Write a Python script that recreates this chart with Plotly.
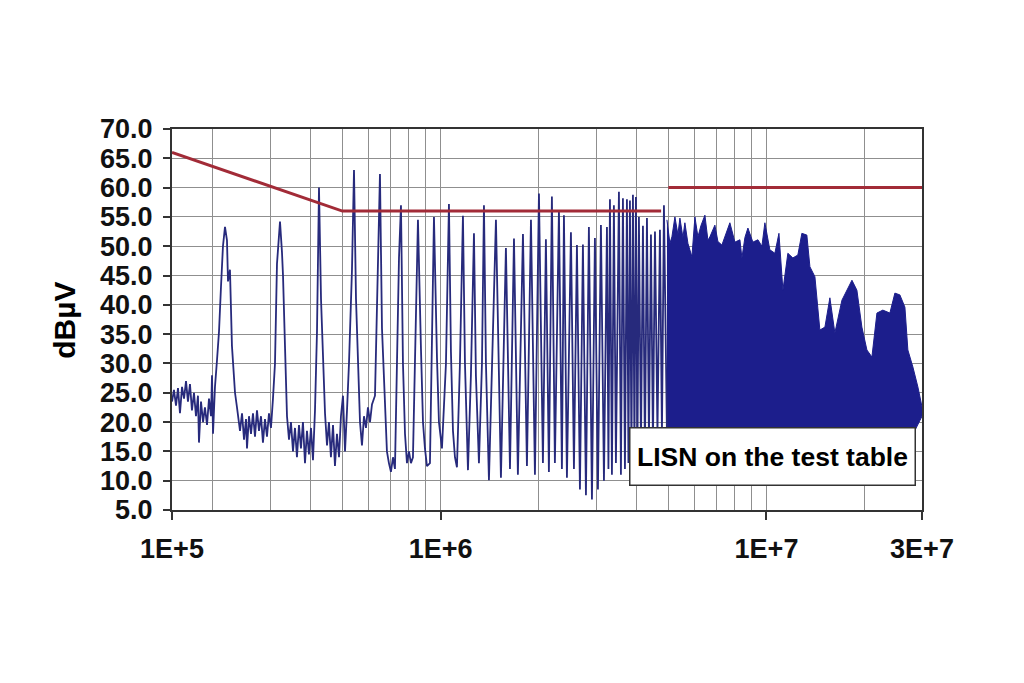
import math
import plotly.graph_objects as go

# ---------------- data (frequencies in MHz, levels in dBµV) ----------------
# conducted-emission spectrum, sparse (harmonic) part 0.15 .. 4.95 MHz
spec_f_mhz = [
    0.150, 0.1521, 0.1543, 0.1565, 0.1587, 0.1610, 0.1633, 0.1656, 0.1679, 0.1703,
    0.1727, 0.1752, 0.1777, 0.1802, 0.1815, 0.1841, 0.1868, 0.1893, 0.1921, 0.1948,
    0.1976, 0.1990, 0.2004, 0.2032, 0.2061, 0.2091, 0.2120, 0.2150, 0.2181, 0.2212,
    0.2228, 0.2259, 0.2291, 0.2308, 0.2341, 0.2374, 0.2425, 0.2460, 0.2495, 0.2530,
    0.2548, 0.2584, 0.2621, 0.2658, 0.2696, 0.2734, 0.2773, 0.2813, 0.2852, 0.2893,
    0.2934, 0.2976, 0.3018, 0.3061, 0.3105, 0.3149, 0.3217, 0.3262, 0.3286, 0.3332,
    0.3380, 0.3428, 0.3476, 0.3526, 0.3576, 0.3626, 0.3679, 0.3730, 0.3783, 0.3838,
    0.3892, 0.3947, 0.4004, 0.4061, 0.4119, 0.4178, 0.4237, 0.4298, 0.4359, 0.4421,
    0.4484, 0.4546, 0.4610, 0.4678, 0.4743, 0.4811, 0.4881, 0.4948, 0.5020, 0.5092,
    0.5164, 0.5237, 0.5349, 0.5426, 0.5503, 0.5581, 0.5661, 0.5740, 0.5822, 0.5905,
    0.5988, 0.6075, 0.6161, 0.6293, 0.6382, 0.6518, 0.6612, 0.6754, 0.6847, 0.6944,
    0.7044, 0.7146, 0.7246, 0.7350, 0.7456, 0.7561, 0.7668, 0.7779, 0.7888, 0.8000,
    0.8113, 0.8229, 0.8406, 0.8525, 0.8708, 0.8833, 0.8957, 0.9084, 0.9279, 0.9410,
    0.9546, 0.9750, 0.9888, 1.0100, 1.0245, 1.0390, 1.0612, 1.0762, 1.0917, 1.1071,
    1.1228, 1.1468, 1.1714, 1.1882, 1.2137, 1.2393, 1.2663, 1.2838, 1.3116, 1.3400,
    1.3589, 1.3781, 1.4076, 1.4378, 1.4791,
    1.532, 1.587, 1.633, 1.680, 1.727, 1.790, 1.841, 1.894, 1.948, 2.004,
    2.061, 2.105, 2.150, 2.196, 2.243, 2.308, 2.357, 2.391, 2.442, 2.512,
    2.566, 2.621, 2.677, 2.734, 2.793, 2.852, 2.914, 2.976, 3.040, 3.105,
    3.172, 3.240, 3.274, 3.309, 3.356, 3.403, 3.452, 3.526, 3.576, 3.627,
    3.679, 3.731, 3.771, 3.811, 3.852, 3.893, 3.934, 3.976, 4.018, 4.061,
    4.120, 4.178, 4.237, 4.298, 4.359, 4.421, 4.484, 4.548, 4.629, 4.711,
    4.778, 4.846, 4.950,
]
spec_db = [
    23.5, 25.5, 22.8, 25.8, 21.5, 26.0, 24.0, 27.0, 23.5, 26.5,
    22.0, 25.0, 21.0, 24.5, 16.5, 23.5, 20.0, 22.5, 19.5, 24.0,
    21.0, 28.0, 18.0, 26.0, 30.5, 35.5, 43.0, 50.0, 53.3, 51.0,
    44.0, 46.0, 33.0, 30.0, 25.0, 22.5, 18.5, 21.5, 17.0, 20.5,
    15.5, 21.0, 18.0, 21.5, 17.5, 22.0, 18.5, 21.0, 16.5, 20.5,
    17.5, 21.5, 19.0, 24.0, 30.0, 47.0, 54.2, 49.0, 45.0, 33.0,
    21.0, 17.0, 20.0, 15.0, 19.0, 14.0, 19.5, 15.5, 20.0, 13.0,
    18.5, 14.5, 19.0, 13.5, 22.0, 35.5, 60.0, 41.0, 30.0, 21.5,
    16.0, 20.0, 14.0, 19.5, 12.5, 18.0, 14.0, 21.0, 24.5, 15.0,
    22.0, 30.0, 46.0, 63.0, 41.0, 29.0, 20.0, 16.0, 21.0, 19.0,
    22.5, 20.0, 23.0, 24.5, 41.0, 62.3, 36.0, 21.5, 15.0, 13.0,
    11.5, 14.0, 12.0, 30.0, 48.0, 57.0, 30.0, 18.0, 13.0, 15.0,
    13.0, 14.0, 35.5, 54.5, 32.5, 20.0, 15.5, 12.5, 13.0, 35.0,
    55.0, 31.0, 20.0, 15.5, 22.0, 30.0, 57.2, 32.0, 18.5, 14.0,
    12.3, 30.0, 55.2, 30.0, 11.8, 28.0, 52.2, 28.0, 13.0, 30.0,
    57.0, 30.0, 10.1, 30.0, 54.5,
    10.5, 49.7, 12.0, 51.3, 11.0, 52.1, 12.5, 54.5, 11.0, 59.0,
    13.0, 51.2, 11.5, 58.5, 13.0, 56.2, 12.0, 55.3, 10.5, 52.4,
    12.0, 50.2, 8.5, 50.3, 7.5, 53.3, 6.8, 51.4, 8.5, 53.6,
    10.0, 53.3, 12.0, 58.0, 11.0, 57.0, 13.0, 59.3, 11.0, 58.2,
    12.0, 58.0, 13.0, 57.8, 14.0, 58.8, 15.0, 58.4, 14.0, 55.0,
    16.0, 53.5, 15.0, 54.8, 17.0, 52.0, 16.0, 52.5, 18.0, 52.8,
    18.0, 57.0, 18.0,
]

# dense part 4.95 .. 30 MHz: upper envelope of the packed harmonics
env_f_mhz = [
    4.950, 5.055, 5.127, 5.237, 5.349, 5.425, 5.541, 5.619, 5.740, 5.905,
    6.032, 6.161, 6.292, 6.473, 6.612, 6.705, 6.945, 7.095, 7.298, 7.509,
    7.722, 8.000, 8.288, 8.406, 8.587, 8.770, 9.084, 9.412, 9.681, 9.888,
    10.24, 10.61, 10.92, 11.23, 11.63, 12.05, 12.48, 12.84, 13.30, 13.59,
    14.08, 14.58, 15.11, 15.65, 16.21, 17.04, 17.65, 18.29, 18.94, 19.62,
    20.33, 21.06, 21.82, 22.75, 23.91, 24.77, 25.66, 26.59, 27.15, 28.13,
    29.14, 30.0,
]
env_db = [
    54.5, 50.5, 51.6, 55.0, 52.0, 54.8, 51.5, 54.0, 50.5, 48.2,
    55.0, 51.6, 53.5, 55.3, 51.0, 51.6, 53.6, 50.8, 50.2, 52.0,
    54.0, 50.7, 51.1, 48.0, 51.5, 53.1, 50.7, 51.1, 50.0, 54.0,
    49.4, 48.8, 52.2, 42.5, 48.8, 48.0, 48.5, 52.2, 51.9, 46.5,
    44.8, 35.7, 36.2, 41.2, 35.2, 40.8, 42.5, 44.2, 42.5, 36.2,
    32.3, 31.1, 38.6, 39.1, 38.6, 42.0, 41.7, 39.6, 32.3, 29.4,
    26.0, 22.6,
]
# lower edge of the packed region (mostly behind the label box)
floor_f_mhz = [30.0, 28.5, 25.0, 15.0, 8.0, 4.95]
floor_db = [21.0, 18.5, 17.0, 16.0, 16.0, 17.0]

# EN55022 class B type limit line
limit1_f_mhz = [0.15, 0.5, 4.75]
limit1_db = [66.0, 56.0, 56.0]
limit2_f_mhz = [5.0, 30.0]
limit2_db = [60.0, 60.0]

x_tickvals_hz = [1.5e5, 1e6, 1e7, 3e7]
x_ticktext = ["1E+5", "1E+6", "1E+7", "3E+7"]
x_minor_grid_hz = [2e5, 3e5, 4e5, 5e5, 6e5, 7e5, 8e5, 9e5,
                   2e6, 3e6, 4e6, 5e6, 6e6, 7e6, 8e6, 9e6, 2e7]

label_text = "LISN on the test table"
y_title = "dBµV"

# ---------------- figure ----------------
hz = lambda arr: [v * 1e6 for v in arr]

navy = "#1c1e8c"
fig = go.Figure()

fig.add_trace(go.Scatter(
    x=hz(env_f_mhz + floor_f_mhz), y=env_db + floor_db,
    mode="lines", fill="toself", fillcolor=navy,
    line=dict(color=navy, width=1), hoverinfo="skip", showlegend=False))

fig.add_trace(go.Scatter(
    x=hz(spec_f_mhz), y=spec_db, mode="lines",
    line=dict(color="#272a7c", width=1.8), showlegend=False))

for fx, fy in ((limit1_f_mhz, limit1_db), (limit2_f_mhz, limit2_db)):
    fig.add_trace(go.Scatter(
        x=hz(fx), y=fy, mode="lines",
        line=dict(color="#a22b37", width=3), showlegend=False))

tick_font = dict(family="Liberation Sans, Arial, sans-serif", size=27,
                 color="#111111", weight="bold")

# page body has an 8 px default margin, so the figure is 16 px smaller
fig.update_layout(
    width=1008, height=667,
    margin=dict(l=164, r=94, t=121, b=165),
    paper_bgcolor="white", plot_bgcolor="white",
    showlegend=False,
    xaxis=dict(
        type="log",
        range=[math.log10(1.5e5), math.log10(3e7)],
        tickvals=x_tickvals_hz, ticktext=x_ticktext,
        ticks="outside", ticklen=8, tickwidth=1.5, tickcolor="#333333",
        tickfont=tick_font, ticklabelstandoff=6,
        showgrid=True, gridcolor="#8f8f8f", gridwidth=1.2,
        minor=dict(tickvals=x_minor_grid_hz, showgrid=True,
                   gridcolor="#8f8f8f", gridwidth=1.2, ticks=""),
        showline=True, linecolor="#333333", linewidth=2, mirror=True,
        zeroline=False,
    ),
    yaxis=dict(
        range=[5, 70], tick0=5, dtick=5, tickformat=".1f",
        ticks="outside", ticklen=7, tickwidth=1.5, tickcolor="#333333",
        tickfont=tick_font, ticklabelstandoff=5,
        showgrid=True, gridcolor="#8f8f8f", gridwidth=1.2,
        showline=True, linecolor="#333333", linewidth=2, mirror=True,
        zeroline=False,
    ),
    annotations=[
        dict(text=label_text, xref="paper", yref="paper",
             x=0.801, y=0.1417, xanchor="center", yanchor="middle",
             showarrow=False, bgcolor="white", bordercolor="#333333",
             borderwidth=1.5, borderpad=4, width=276, height=48,
             font=dict(family="Liberation Sans, Arial, sans-serif", size=26.5,
                       color="#000000", weight="bold")),
        dict(text=y_title, xref="paper", yref="paper",
             x=-0.1427, y=0.499, xanchor="center", yanchor="middle",
             textangle=-90, showarrow=False,
             font=dict(family="Liberation Sans, Arial, sans-serif", size=30,
                       color="#000000", weight="bold")),
    ],
)

fig.write_html("out.html")
